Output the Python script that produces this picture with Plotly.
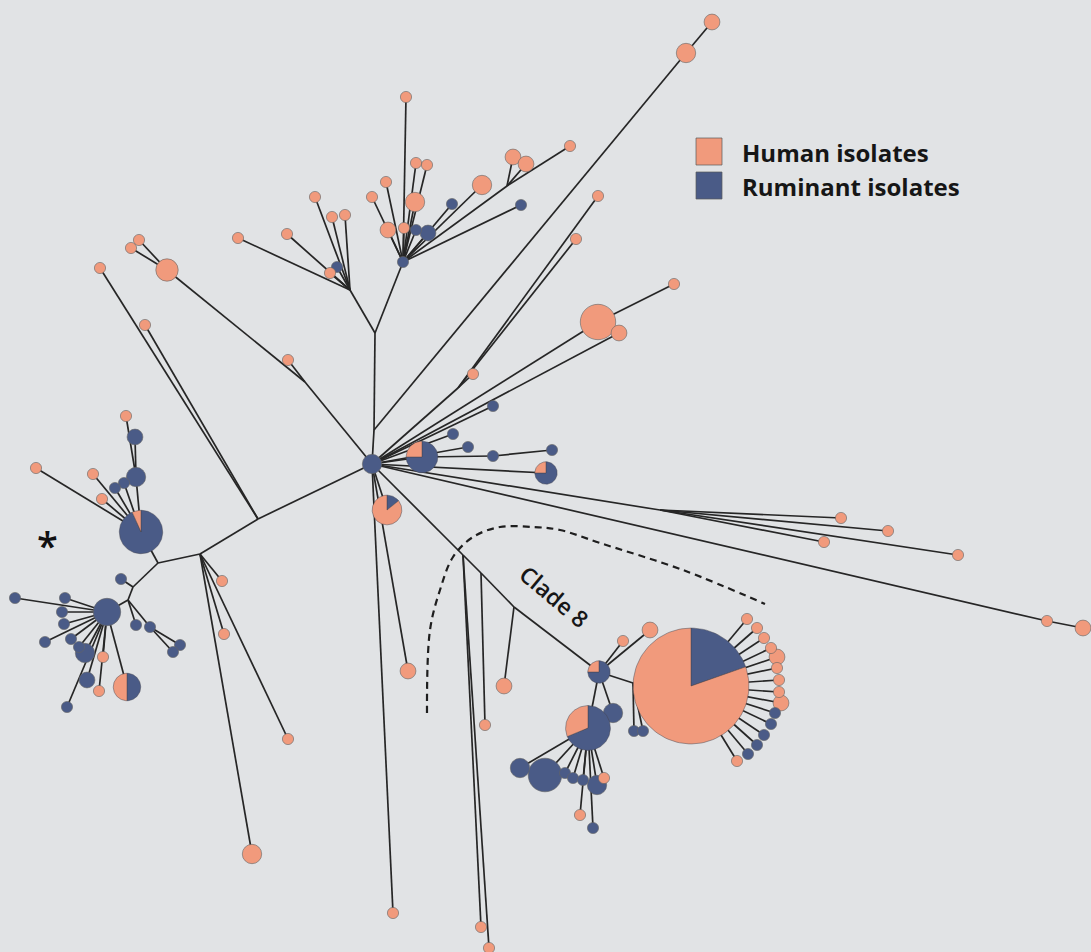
import math
import plotly.graph_objects as go

# ---------------------------------------------------------------------------
# Minimum spanning tree of isolates. Each node: (name, x, y, human, ruminant)
# x/y are layout coordinates of the tree; counts are isolates per node.
# Branch points carry no isolates (0, 0).
# ---------------------------------------------------------------------------
branch_points = [
    ("hub", 372, 464, 0, 3),
    ("J1", 258, 519, 0, 0), ("J2", 200, 554, 0, 0), ("J9", 158, 563, 0, 0),
    ("J11", 133, 587, 0, 0), ("J12", 128, 600, 0, 0), ("J3", 305, 382, 0, 0),
    ("J10", 374, 430, 0, 0), ("J4", 375, 333, 0, 0), ("J5", 350, 290, 0, 0),
    ("J6", 458, 388, 0, 0), ("J7", 660, 510, 0, 0), ("C8a", 463, 555, 0, 0),
    ("C8b", 481, 573, 0, 0), ("C8c", 514, 607, 0, 0), ("J13", 507, 186, 0, 0),
    ("J14", 633, 683, 0, 0),
]

upper_left_nodes = [
    ("lt1", 100, 268, 1, 0), ("lt2", 145, 325, 1, 0), ("lt3", 167, 270, 4, 0),
    ("lt4", 131, 248, 1, 0), ("lt5", 139, 240, 1, 0), ("lt6", 288, 360, 1, 0),
]

upper_nodes = [
    ("ua", 238, 238, 1, 0), ("ub", 287, 234, 1, 0), ("uc", 315, 197, 1, 0),
    ("ud", 332, 217, 1, 0), ("ue", 345, 215, 1, 0), ("uf", 337, 267, 0, 1),
    ("ug", 330, 273, 1, 0), ("U0", 403, 262, 0, 1), ("u1", 406, 97, 1, 0),
    ("u2", 416, 163, 1, 0), ("u3", 427, 165, 1, 0), ("u4", 415, 202, 3, 0),
    ("u5", 386, 182, 1, 0), ("u6", 372, 197, 1, 0), ("u7", 388, 230, 2, 0),
    ("u8", 404, 228, 1, 0), ("u9", 416, 230, 0, 1), ("u10", 428, 233, 0, 2),
    ("u11", 452, 204, 0, 1), ("u12", 482, 185, 3, 0), ("u13", 513, 157, 2, 0),
    ("u14", 526, 164, 2, 0), ("u15", 570, 146, 1, 0), ("u16", 521, 205, 0, 1),
    ("ul1", 686, 53, 3, 0), ("ul2", 712, 22, 2, 0),
]

right_nodes = [
    ("r1", 598, 196, 1, 0), ("r2", 576, 239, 1, 0), ("r3", 473, 374, 1, 0),
    ("r4", 598, 322, 10, 0), ("r5", 619, 333, 2, 0), ("r6", 674, 284, 1, 0),
    ("r7", 493, 406, 0, 1),
    ("h1", 422, 457, 2, 6), ("h2", 453, 434, 0, 1), ("h3", 468, 447, 0, 1),
    ("h4", 493, 456, 0, 1), ("h5", 552, 450, 0, 1), ("h6", 546, 473, 1, 3),
    ("h7", 387, 510, 6, 1), ("h8", 408, 671, 2, 0), ("h9", 393, 913, 1, 0),
    ("e1", 841, 518, 1, 0), ("e2", 888, 531, 1, 0), ("e3", 824, 542, 1, 0),
    ("e4", 958, 555, 1, 0), ("e5", 1047, 621, 1, 0), ("e6", 1083, 628, 2, 0),
]

clade8_nodes = [
    ("c1", 481, 927, 1, 0), ("c2", 489, 948, 1, 0), ("c3", 485, 725, 1, 0),
    ("c4", 504, 686, 2, 0), ("P8", 599, 672, 1, 3), ("c5", 623, 641, 1, 0),
    ("c6", 650, 630, 2, 0), ("BIG", 691, 686, 86, 21), ("P8b", 588, 728, 5, 11),
    ("c7", 613, 713, 0, 3), ("c8", 634, 731, 0, 1), ("c9", 643, 731, 0, 1),
    ("d1", 520, 768, 0, 3), ("d2", 545, 775, 0, 9), ("d3", 565, 773, 0, 1),
    ("d4", 573, 778, 0, 1), ("d5", 583, 780, 0, 1), ("d6", 597, 785, 0, 3),
    ("d7", 604, 778, 1, 0), ("d8", 580, 815, 1, 0), ("d9", 593, 828, 0, 1),
    ("s1", 747, 619, 1, 0), ("s2", 757, 628, 1, 0), ("s3", 764, 638, 1, 0),
    ("s4", 771, 648, 1, 0), ("s5", 777, 657, 2, 0), ("s6", 777, 668, 1, 0),
    ("s7", 779, 680, 1, 0), ("s8", 779, 692, 1, 0), ("s9", 781, 703, 2, 0),
    ("s10", 775, 713, 0, 1), ("s11", 771, 724, 0, 1), ("s12", 764, 735, 0, 1),
    ("s13", 757, 745, 0, 1), ("s14", 748, 754, 0, 1), ("s15", 737, 761, 1, 0),
]

left_nodes = [
    ("LP", 141, 532, 1, 14), ("l1", 136, 477, 0, 3), ("l2", 135, 437, 0, 2),
    ("l3", 126, 416, 1, 0), ("l4", 124, 483, 0, 1), ("l5", 115, 488, 0, 1),
    ("l6", 93, 474, 1, 0), ("l7", 102, 499, 1, 0), ("l8", 36, 468, 1, 0),
    ("m0", 121, 579, 0, 1), ("LB", 107, 612, 0, 6), ("m1", 136, 625, 0, 1),
    ("m2", 150, 627, 0, 1), ("m3", 180, 645, 0, 1), ("m4", 173, 652, 0, 1),
    ("b1", 15, 598, 0, 1), ("b2", 65, 598, 0, 1), ("b3", 62, 612, 0, 1),
    ("b4", 64, 624, 0, 1), ("b5", 45, 642, 0, 1), ("b6", 71, 639, 0, 1),
    ("b7", 79, 647, 0, 1), ("b8", 85, 653, 0, 3), ("b9", 103, 657, 1, 0),
    ("b10", 87, 680, 0, 2), ("b11", 99, 691, 1, 0), ("b12", 127, 687, 3, 3),
    ("b13", 67, 707, 0, 1),
    ("k1", 222, 581, 1, 0), ("k2", 224, 634, 1, 0), ("k3", 288, 739, 1, 0),
    ("k4", 252, 854, 3, 0),
]

# Tree links: parent -> children
links = {
    "hub": ["J1", "J3", "J10", "C8a", "J6", "r4", "r5", "r7", "h1", "h2", "h3",
            "h6", "J7", "e5", "h7", "h8", "h9"],
    "J3": ["lt3", "lt6"], "lt3": ["lt4", "lt5"],
    "J1": ["lt1", "lt2", "J2"],
    "J2": ["J9", "k1", "k2", "k3", "k4"],
    "J9": ["LP", "J11"],
    "LP": ["l1", "l4", "l5", "l6", "l7", "l8"], "l1": ["l2", "l3"],
    "J11": ["m0", "J12"], "J12": ["LB", "m1", "m2"], "m2": ["m3", "m4"],
    "LB": ["b%d" % i for i in range(1, 14)],
    "J10": ["J4", "ul1"], "ul1": ["ul2"],
    "J4": ["J5", "U0"],
    "J5": ["ua", "ub", "uc", "ud", "ue", "uf", "ug"],
    "U0": ["u%d" % i for i in range(1, 13)] + ["J13", "u16"],
    "J13": ["u13", "u14", "u15"],
    "J6": ["r1", "r2", "r3"], "r4": ["r6"],
    "h1": ["h4"], "h4": ["h5"],
    "J7": ["e1", "e2", "e3", "e4"], "e5": ["e6"],
    "C8a": ["C8b", "c1", "c2"], "C8b": ["C8c", "c3"], "C8c": ["c4", "P8"],
    "P8": ["c5", "c6", "J14", "P8b", "c7"], "J14": ["BIG", "c8", "c9"],
    "P8b": ["d%d" % i for i in range(1, 10)],
    "BIG": ["s%d" % i for i in range(1, 16)],
}

# Dashed outline around clade 8
clade_outline_x = [427, 430, 440, 453, 473, 500, 533, 560, 600, 683, 765]
clade_outline_y = [713, 630, 590, 557, 537, 527, 527, 530, 543, 570, 604]

legend_labels = ["Human isolates", "Ruminant isolates"]

# ---------------------------------------------------------------------------
HUMAN = "#f19a7c"
RUMINANT = "#4a5b87"
BG = "#e1e3e5"
EDGE = "#262626"
OUTLINE = "rgba(100,100,100,0.6)"
UNIT_R = 5.6  # radius of a one-isolate node
FONT = "Open Sans"

all_nodes = branch_points + upper_left_nodes + upper_nodes + right_nodes + clade8_nodes + left_nodes
pos = {n[0]: (n[1], n[2]) for n in all_nodes}

fig = go.Figure()

# edges
ex, ey = [], []
for parent, children in links.items():
    for c in children:
        ex += [pos[parent][0], pos[c][0], None]
        ey += [pos[parent][1], pos[c][1], None]
fig.add_trace(go.Scatter(x=ex, y=ey, mode="lines",
                         line=dict(color=EDGE, width=1.7),
                         hoverinfo="skip"))

# dashed clade outline
fig.add_trace(go.Scatter(x=clade_outline_x, y=clade_outline_y, mode="lines",
                         line=dict(color="#1e1e1e", width=2.2, dash="7px,5px",
                                   shape="spline", smoothing=1.0),
                         hoverinfo="skip"))

def radius(total):
    return UNIT_R * math.sqrt(total)

solid = [n for n in all_nodes if (n[3] + n[4]) > 0 and (n[3] == 0 or n[4] == 0)]
pies = [n for n in all_nodes if n[3] > 0 and n[4] > 0]
solid.sort(key=lambda n: -(n[3] + n[4]))

fig.add_trace(go.Scatter(
    x=[n[1] for n in solid], y=[n[2] for n in solid], mode="markers",
    marker=dict(size=[2 * radius(n[3] + n[4]) for n in solid],
                color=[HUMAN if n[3] > 0 else RUMINANT for n in solid],
                line=dict(color=OUTLINE, width=1), opacity=1),
    hoverinfo="skip"))

def wedge(cx, cy, r, a0, a1):
    # angles in degrees, clockwise from 12 o'clock
    steps = max(4, int(abs(a1 - a0) / 3))
    xs, ys = [cx], [cy]
    for i in range(steps + 1):
        a = math.radians(a0 + (a1 - a0) * i / steps)
        xs.append(cx + r * math.sin(a))
        ys.append(cy - r * math.cos(a))
    xs.append(cx)
    ys.append(cy)
    return xs, ys

for name, cx, cy, h, ru in sorted(pies, key=lambda n: -(n[3] + n[4])):
    r = radius(h + ru)
    split = 360.0 * ru / (h + ru)
    for a0, a1, col in [(0, split, RUMINANT), (split, 360, HUMAN)]:
        xs, ys = wedge(cx, cy, r, a0, a1)
        fig.add_trace(go.Scatter(x=xs, y=ys, mode="lines", fill="toself",
                                 fillcolor=col,
                                 line=dict(color="rgba(70,70,80,0.6)", width=0.8),
                                 hoverinfo="skip"))

# legend swatches and labels
for i, (label, col) in enumerate(zip(legend_labels, [HUMAN, RUMINANT])):
    y0 = 138 + i * 34
    fig.add_shape(type="rect", x0=696, x1=722, y0=y0, y1=y0 + 27,
                  xref="x", yref="y", fillcolor=col,
                  line=dict(color="rgba(90,90,90,0.7)", width=1))
    fig.add_annotation(x=740, y=y0 + 14, text=label, showarrow=False,
                       xanchor="left", yanchor="middle", xref="x", yref="y",
                       font=dict(family=FONT, size=24, color="#161616", weight=700))

fig.add_annotation(x=554, y=596, text="Clade 8", showarrow=False, textangle=40,
                   xref="x", yref="y",
                   font=dict(family=FONT, size=23, color="#161616", weight=600))
fig.add_annotation(x=47, y=545, text="*", showarrow=False, xref="x", yref="y",
                   font=dict(family=FONT, size=38, color="#111111", weight=600))

fig.update_layout(
    width=1091, height=952,
    margin=dict(l=0, r=0, t=0, b=0, pad=0),
    paper_bgcolor=BG, plot_bgcolor=BG,
    showlegend=False,
    xaxis=dict(range=[0, 1091], visible=False, fixedrange=True),
    yaxis=dict(range=[952, 0], visible=False, fixedrange=True),
)

fig.write_html("out.html")
